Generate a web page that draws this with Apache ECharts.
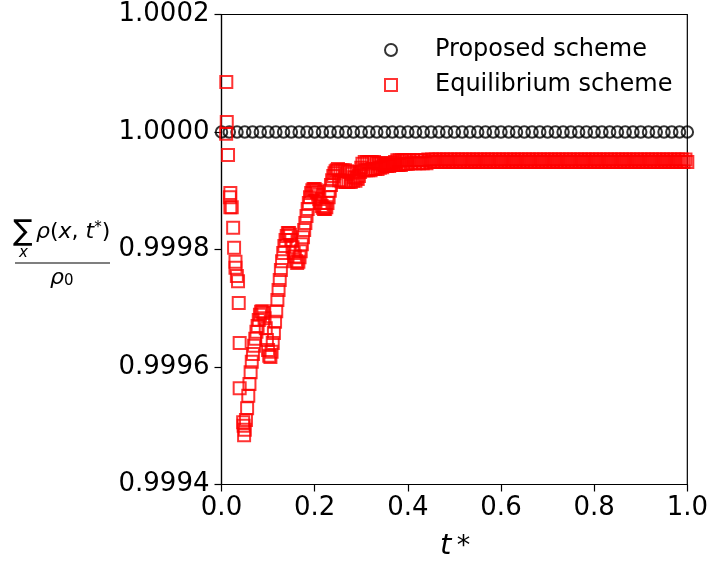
<!DOCTYPE html>
<html>
<head>
<meta charset="utf-8">
<script src="https://cdn.jsdelivr.net/npm/echarts@6/dist/echarts.min.js"></script>
<style>
html,body{margin:0;padding:0;background:#fff;}
#chart{width:711px;height:561px;}
</style>
</head>
<body>
<div id="chart"></div>
<script>
// ---------- data ----------
var xTicks = [0.0, 0.2, 0.4, 0.6, 0.8, 1.0];
var yTicks = [0.9994, 0.9996, 0.9998, 1.0000, 1.0002];

var seriesNames = ['Proposed scheme', 'Equilibrium scheme'];

var tProposed = [0,0.0167,0.0333,0.05,0.0667,0.0833,0.1,0.1167,0.1333,0.15,
0.1667,0.1833,0.2,0.2167,0.2333,0.25,0.2667,0.2833,0.3,0.3167,
0.3333,0.35,0.3667,0.3833,0.4,0.4167,0.4333,0.45,0.4667,0.4833,
0.5,0.5167,0.5333,0.55,0.5667,0.5833,0.6,0.6167,0.6333,0.65,
0.6667,0.6833,0.7,0.7167,0.7333,0.75,0.7667,0.7833,0.8,0.8167,
0.8333,0.85,0.8667,0.8833,0.9,0.9167,0.9333,0.95,0.9667,0.9833,1.0];
var vProposed = [1.0,1.0,1.0,1.0,1.0,1.0,1.0,1.0,1.0,1.0,
1.0,1.0,1.0,1.0,1.0,1.0,1.0,1.0,1.0,1.0,
1.0,1.0,1.0,1.0,1.0,1.0,1.0,1.0,1.0,1.0,
1.0,1.0,1.0,1.0,1.0,1.0,1.0,1.0,1.0,1.0,
1.0,1.0,1.0,1.0,1.0,1.0,1.0,1.0,1.0,1.0,
1.0,1.0,1.0,1.0,1.0,1.0,1.0,1.0,1.0,1.0,1.0];

var tEqEarly = [0.0103,0.0113,0.0100,0.0140,0.0180,0.0190,0.0190,0.0220,0.0250,0.0270,
0.0300,0.0300,0.0330,0.0355,0.0370,0.0390,0.0390,0.0465,0.0475,0.0485];
var vEqEarly = [1.000085,1.000017,0.999997,0.999961,0.999889,0.999896,0.999872,0.999872,0.999837,0.999803,
0.999779,0.999769,0.999755,0.999746,0.999709,0.999641,0.999564,0.999506,0.999500,0.999484];

var tEqMid = [0.0500,0.0525,0.0550,0.0575,0.0600,0.0625,0.0650,0.0675,0.0700,0.0725,
0.0750,0.0775,0.0800,0.0825,0.0850,0.0875,0.0900,0.0925,0.0950,0.0975,
0.1000,0.1025,0.1050,0.1075,0.1100,0.1125,0.1150,0.1175,0.1200,0.1225,
0.1250,0.1275,0.1300,0.1325,0.1350,0.1375,0.1400,0.1425,0.1450,0.1475,
0.1500,0.1525,0.1550,0.1575,0.1600,0.1625,0.1650,0.1675,0.1700,0.1725,
0.1750,0.1775,0.1800,0.1825,0.1850,0.1875,0.1900,0.1925,0.1950,0.1975,
0.2000,0.2025,0.2050,0.2075,0.2100,0.2125,0.2150,0.2175,0.2200,0.2225,
0.2250,0.2275,0.2300,0.2325,0.2350,0.2375,0.2400,0.2425,0.2450,0.2475,
0.2500,0.2525,0.2550,0.2575,0.2600,0.2625,0.2650,0.2675,0.2700,0.2725,
0.2750,0.2775,0.2800,0.2825,0.2850,0.2875,0.2900,0.2925,0.2950,0.2975,
0.3000,0.3025,0.3050,0.3075,0.3100,0.3125,0.3150,0.3175,0.3200,0.3225,
0.3250,0.3275,0.3300,0.3325,0.3350,0.3375,0.3400,0.3425,0.3450,0.3475,
0.3500,0.3525,0.3550,0.3575,0.3600,0.3625,0.3650,0.3675,0.3700,0.3725,
0.3750,0.3775,0.3800,0.3825,0.3850,0.3875,0.3900,0.3925,0.3950,0.3975,
0.4000];
var vEqMid = [0.999493,0.999510,0.999530,0.999551,0.999571,0.999591,0.999609,0.999622,0.999636,0.999648,
0.999660,0.999670,0.999680,0.999689,0.999694,0.999695,0.999692,0.999683,0.999666,0.999646,
0.999629,0.999619,0.999617,0.999626,0.999641,0.999658,0.999677,0.999695,0.999714,0.999731,
0.999748,0.999765,0.999780,0.999794,0.999806,0.999816,0.999823,0.999828,0.999828,0.999825,
0.999816,0.999804,0.999794,0.999788,0.999780,0.999777,0.999779,0.999787,0.999797,0.999809,
0.999821,0.999833,0.999845,0.999857,0.999869,0.999879,0.999889,0.999896,0.999901,0.999903,
0.999903,0.999901,0.999898,0.999893,0.999886,0.999879,0.999874,0.999871,0.999869,0.999869,
0.999872,0.999879,0.999889,0.999900,0.999910,0.999918,0.999925,0.999930,0.999933,0.999935,
0.999937,0.999918,0.999935,0.999917,0.999935,0.999915,0.999935,0.999915,0.999933,0.999915,
0.999932,0.999915,0.999929,0.999917,0.999923,0.999917,0.999922,0.999920,0.999925,0.999932,
0.999939,0.999946,0.999935,0.999949,0.999935,0.999949,0.999935,0.999949,0.999935,0.999949,
0.999937,0.999949,0.999937,0.999947,0.999937,0.999947,0.999939,0.999947,0.999940,0.999944,
0.999942,0.999944,0.999942,0.999944,0.999942,0.999947,0.999944,0.999947,0.999944,0.999949,
0.999944,0.999952,0.999944,0.999952,0.999944,0.999952,0.999946,0.999952,0.999946,0.999952,
0.999946];

var tEqLate = [0.404,0.408,0.412,0.416,0.420,0.424,0.428,0.432,0.436,0.440,
0.444,0.448,0.452,0.456,0.460,0.464,0.468,0.472,0.476,0.480,
0.484,0.488,0.492,0.496,0.500,0.504,0.508,0.512,0.516,0.520,
0.524,0.528,0.532,0.536,0.540,0.544,0.548,0.552,0.556,0.560,
0.564,0.568,0.572,0.576,0.580,0.584,0.588,0.592,0.596,0.600,
0.604,0.608,0.612,0.616,0.620,0.624,0.628,0.632,0.636,0.640,
0.644,0.648,0.652,0.656,0.660,0.664,0.668,0.672,0.676,0.680,
0.684,0.688,0.692,0.696,0.700,0.704,0.708,0.712,0.716,0.720,
0.724,0.728,0.732,0.736,0.740,0.744,0.748,0.752,0.756,0.760,
0.764,0.768,0.772,0.776,0.780,0.784,0.788,0.792,0.796,0.800,
0.804,0.808,0.812,0.816,0.820,0.824,0.828,0.832,0.836,0.840,
0.844,0.848,0.852,0.856,0.860,0.864,0.868,0.872,0.876,0.880,
0.884,0.888,0.892,0.896,0.900,0.904,0.908,0.912,0.916,0.920,
0.924,0.928,0.932,0.936,0.940,0.944,0.948,0.952,0.956,0.960,
0.964,0.968,0.972,0.976,0.980,0.984,0.988,0.992,0.996,1.000];
var vEqLate = [0.999952,0.999947,0.999952,0.999947,0.999952,0.999947,0.999952,0.999947,0.999952,0.999947,
0.999953,0.999949,0.999953,0.999949,0.999953,0.999949,0.999953,0.999949,0.999953,0.999949,
0.999953,0.999949,0.999953,0.999949,0.999953,0.999949,0.999953,0.999949,0.999953,0.999949,
0.999953,0.999949,0.999953,0.999949,0.999953,0.999949,0.999953,0.999949,0.999953,0.999949,
0.999953,0.999949,0.999953,0.999949,0.999953,0.999949,0.999953,0.999949,0.999953,0.999949,
0.999953,0.999949,0.999953,0.999949,0.999953,0.999949,0.999953,0.999949,0.999953,0.999949,
0.999953,0.999949,0.999953,0.999949,0.999953,0.999949,0.999953,0.999949,0.999953,0.999949,
0.999953,0.999949,0.999953,0.999949,0.999953,0.999949,0.999953,0.999949,0.999953,0.999949,
0.999953,0.999949,0.999953,0.999949,0.999953,0.999949,0.999953,0.999949,0.999953,0.999949,
0.999953,0.999949,0.999953,0.999949,0.999953,0.999949,0.999953,0.999949,0.999953,0.999949,
0.999953,0.999949,0.999953,0.999949,0.999953,0.999949,0.999953,0.999949,0.999953,0.999949,
0.999953,0.999949,0.999953,0.999949,0.999953,0.999949,0.999953,0.999949,0.999953,0.999949,
0.999953,0.999949,0.999953,0.999949,0.999953,0.999949,0.999953,0.999949,0.999953,0.999949,
0.999953,0.999949,0.999953,0.999949,0.999953,0.999949,0.999953,0.999949,0.999953,0.999949,
0.999953,0.999949,0.999953,0.999949,0.999953,0.999949,0.999953,0.999949,0.999953,0.999949];

// ---------- build ----------
function pairs(ts, vs) { var o = []; for (var i = 0; i < ts.length; i++) o.push([ts[i], vs[i]]); return o; }
var dataProposed = pairs(tProposed, vProposed);
var dataEq = pairs(tEqEarly, vEqEarly).concat(pairs(tEqMid, vEqMid)).concat(pairs(tEqLate, vEqLate));

var FONT = 'DejaVu Sans';
var chart = echarts.init(document.getElementById('chart'), null, {renderer: 'canvas'});
var squarePath = 'path://M0,0L10,0L10,10L0,10Z';

var option = {
  animation: false,
  backgroundColor: '#fff',
  grid: {left: 221.5, right: 21.5, top: 14.5, bottom: 76.5, show: true, borderColor: '#000', borderWidth: 1.2, backgroundColor: 'transparent'},
  xAxis: {
    type: 'value', min: xTicks[0], max: xTicks[xTicks.length - 1], interval: 0.2,
    axisLine: {show: true, lineStyle: {color: '#000', width: 1.2}},
    axisTick: {show: true, inside: false, length: 7, lineStyle: {color: '#000', width: 1.2}},
    axisLabel: {color: '#000', fontFamily: FONT, fontSize: 26, margin: 11, formatter: function (v) { return v.toFixed(1); }},
    splitLine: {show: false}
  },
  yAxis: {
    type: 'value', min: yTicks[0], max: yTicks[yTicks.length - 1], interval: 0.0002,
    axisLine: {show: true, lineStyle: {color: '#000', width: 1.2}},
    axisTick: {show: true, inside: false, length: 7, lineStyle: {color: '#000', width: 1.2}},
    axisLabel: {color: '#000', fontFamily: FONT, fontSize: 26, margin: 12, formatter: function (v) { return v.toFixed(4); }},
    splitLine: {show: false}
  },
  legend: {
    orient: 'vertical', left: 379, top: 33, itemWidth: 78, itemHeight: 12, itemGap: 11,
    textStyle: {fontFamily: FONT, fontSize: 24, color: '#000', lineHeight: 24},
    data: [
      {name: seriesNames[0], icon: 'circle', itemStyle: {color: 'rgba(0,0,0,0)', borderColor: '#000', borderWidth: 2}},
      {name: seriesNames[1], icon: squarePath, itemStyle: {color: 'rgba(0,0,0,0)', borderColor: '#ff0000', borderWidth: 2}}
    ],
    selectedMode: false
  },
  series: [
    {
      name: seriesNames[0], type: 'scatter', data: dataProposed, symbol: 'circle', symbolSize: 11.5,
      itemStyle: {color: 'rgba(0,0,0,0)', borderColor: '#000', borderWidth: 2}, clip: true, silent: true
    },
    {
      name: seriesNames[1], type: 'scatter', data: dataEq, symbol: 'rect', symbolSize: 12,
      itemStyle: {color: 'rgba(0,0,0,0)', borderColor: '#ff0000', borderWidth: 2}, clip: true, silent: true, large: false
    }
  ],
  graphic: [
    {type: 'text', left: 440, top: 532, style: {
      text: '{i|t}{n|\u2009*}', rich: {i: {fontFamily: FONT, fontStyle: 'italic', fontSize: 29, fill: '#000', color: '#000'}, n: {fontFamily: FONT, fontSize: 27, fill: '#000', color: '#000'}}}},
    {type: 'text', left: 13, top: 218, style: {text: '\u2211', font: '29px ' + FONT, fill: '#000'}},
    {type: 'text', left: 36, top: 221, style: {
      text: '{a|\u03c1}{b|(}{a|x}{b|, }{a|t}{s|*}{b|)}',
      rich: {
        a: {fontFamily: FONT, fontStyle: 'italic', fontSize: 22, fill: '#000', color: '#000'},
        b: {fontFamily: FONT, fontSize: 22, fill: '#000', color: '#000'},
        s: {fontFamily: FONT, fontSize: 15, fill: '#000', color: '#000', verticalAlign: 'top'}
      }}},
    {type: 'text', left: 19, top: 246, style: {text: 'x', font: 'italic 15px ' + FONT, fill: '#000'}},
    {type: 'line', shape: {x1: 15, y1: 263, x2: 110, y2: 263}, style: {stroke: '#000', lineWidth: 1.2}},
    {type: 'text', left: 50, top: 267, style: {
      text: '{a|\u03c1}{b|0}',
      rich: {
        a: {fontFamily: FONT, fontStyle: 'italic', fontSize: 22, fill: '#000', color: '#000'},
        b: {fontFamily: FONT, fontSize: 15, fill: '#000', color: '#000', verticalAlign: 'bottom'}
      }}}
  ]
};
chart.setOption(option);
</script>
</body>
</html>
